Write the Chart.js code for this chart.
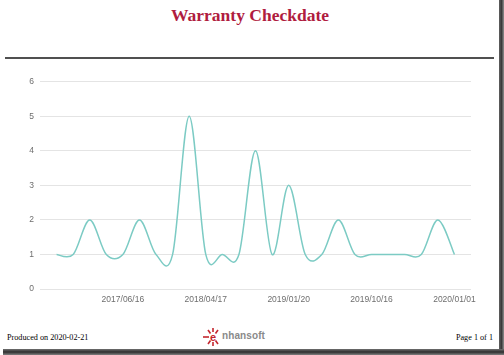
<!DOCTYPE html>
<html>
<head>
<meta charset="utf-8">
<script src="https://cdn.jsdelivr.net/npm/chart.js@4/dist/chart.umd.min.js"></script>
<style>
  html, body { margin: 0; padding: 0; background: #fff; }
  #page { position: relative; width: 504px; height: 355px; overflow: hidden; background: #fff; }
  #title { position: absolute; left: 0; top: 5px; width: 500px; text-align: center;
    font-family: "Liberation Serif", "DejaVu Serif", serif; font-weight: bold; font-size: 17.5px; color: #b01c40; }
  #rule { position: absolute; left: 5px; top: 57px; width: 489px; height: 2px; background: #505050; }
  #chartbox { position: absolute; left: 0; top: 62px; width: 500px; height: 250px; }
  .foot { position: absolute; top: 333px; font-family: "Liberation Serif", serif; font-size: 8.2px; color: #000; }
  #produced { left: 7px; }
  #pageno { right: 11px; }
  #logo { position: absolute; left: 203px; top: 327px; height: 20px; }
  #logotext { position: absolute; left: 222px; top: 330px; font-family: "Liberation Sans", Arial, sans-serif;
    font-weight: bold; font-size: 10px; color: #8a8a8a; letter-spacing: 0.1px; }
  #rborder { position: absolute; left: 499px; top: 0; width: 5px; height: 355px;
    background: linear-gradient(to right, #606060, #3a3a3a, #909090); }
  #bborder { position: absolute; left: 3px; top: 349px; width: 501px; height: 6px;
    background: linear-gradient(to bottom, #707070, #2e2e2e, #808080); }
</style>
</head>
<body>
<div id="page">
  <div id="title">Warranty Checkdate</div>
  <div id="rule"></div>
  <div id="chartbox"><canvas id="c" width="500" height="250"></canvas></div>
  <div class="foot" id="produced">Produced on 2020-02-21</div>
  <svg id="logo" width="20" height="20" viewBox="0 0 20 20">
    <g stroke="#c4262e" stroke-width="1.6" fill="none">
      <line x1="0" y1="10" x2="6" y2="10"/>
      <line x1="10" y1="1" x2="10" y2="5"/>
      <line x1="10" y1="15" x2="10" y2="19"/>
      <line x1="5" y1="3" x2="7.5" y2="6.5"/>
      <line x1="15" y1="3" x2="12.5" y2="6.5"/>
      <line x1="5" y1="17" x2="7.5" y2="13.5"/>
      <line x1="15" y1="17" x2="12.5" y2="13.5"/>
    </g>
    <text x="10" y="13.6" text-anchor="middle" font-family="Liberation Sans, Arial, sans-serif" font-weight="bold" font-size="11" fill="#c4262e">e</text>
  </svg>
  <div id="logotext">nhansoft</div>
  <div class="foot" id="pageno">Page 1 of 1</div>
  <div id="rborder"></div>
  <div id="bborder"></div>
</div>
<script>
// Category labels (only the ones legible in the reference are filled in)
const categories = ['', '', '', '', '2017/06/16', '', '', '', '', '2018/04/17', '', '', '', '',
                    '2019/01/20', '', '', '', '', '2019/10/16', '', '', '', '', '2020/01/01'];
const counts = [1, 1, 2, 1, 1, 2, 1, 1, 5, 1, 1, 1, 4, 1, 3, 1, 1, 2, 1, 1, 1, 1, 1, 2, 1];
const yTicks = [0, 1, 2, 3, 4, 5, 6];

const points = counts.map((v, i) => ({ x: i, y: v }));

// Uniform Catmull-Rom control points (computed from the scale-positioned points)
const catmull = {
  id: 'catmull',
  beforeDatasetDraw(chart, args) {
    const meta = args.meta;
    meta.dataset.updateControlPoints(chart.chartArea, 'x');
    const pts = meta.data, n = pts.length;
    for (let i = 0; i < n; i++) {
      const p = pts[i], a = pts[Math.max(0, i - 1)], b = pts[Math.min(n - 1, i + 1)];
      const dx = (b.x - a.x) / 6, dy = (b.y - a.y) / 6;
      p.cp1x = p.x - dx; p.cp1y = p.y - dy;
      p.cp2x = p.x + dx; p.cp2y = p.y + dy;
    }
  }
};

new Chart(document.getElementById('c'), {
  type: 'line',
  data: {
    datasets: [{
      data: points,
      borderColor: '#7ccbc4',
      borderWidth: 1.5,
      pointRadius: 0,
      tension: 0.4,
      fill: false
    }]
  },
  options: {
    responsive: false,
    animation: false,
    events: [],
    layout: { padding: { top: 19.7, right: 29, left: 0, bottom: 0 } },
    plugins: { legend: { display: false }, tooltip: { enabled: false } },
    scales: {
      x: {
        type: 'linear',
        min: -1, max: 25,
        grid: { display: false },
        border: { display: false },
        afterFit: s => { s.height = 23; },
        afterBuildTicks: s => { s.ticks = categories.map((c, i) => ({ value: i })); },
        ticks: {
          autoSkip: false, maxRotation: 0, padding: -2,
          color: '#6e6e6e',
          font: { family: 'Liberation Sans, Arial, sans-serif', size: 8.5 },
          callback: v => categories[v] || ''
        }
      },
      y: {
        min: 0, max: 6,
        afterFit: s => { s.width = 40; },
        afterBuildTicks: s => { s.ticks = yTicks.map(v => ({ value: v })); },
        grid: { color: '#e4e4e4', lineWidth: 1, drawTicks: false },
        border: { display: false },
        ticks: {
          padding: 6,
          color: '#6e6e6e',
          font: { family: 'Liberation Sans, Arial, sans-serif', size: 8.5 }
        }
      }
    }
  },
  plugins: [catmull]
});
</script>
</body>
</html>
